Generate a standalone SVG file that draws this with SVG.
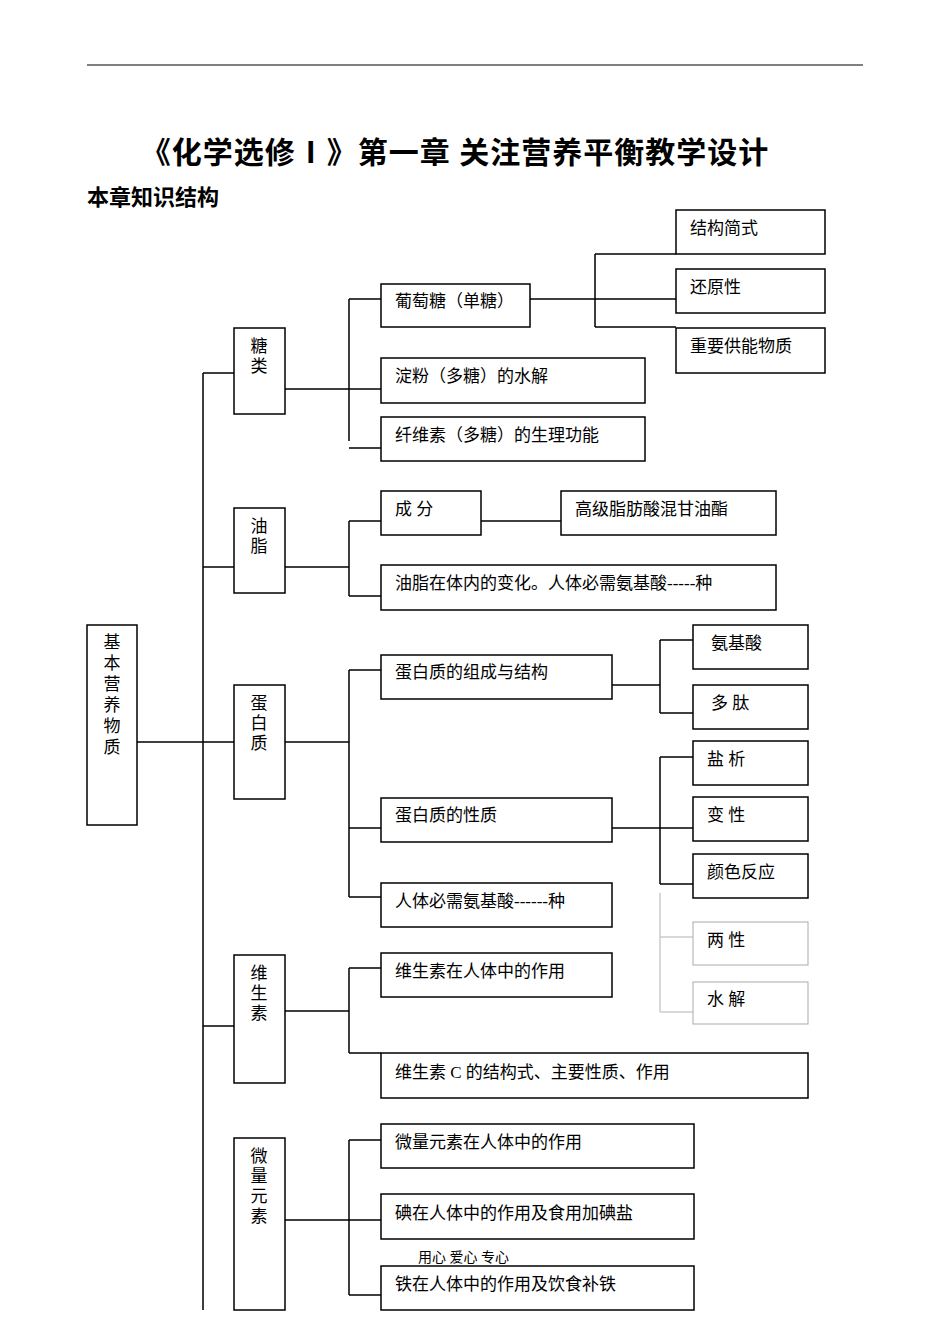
<svg xmlns="http://www.w3.org/2000/svg" width="950" height="1342" viewBox="0 0 950 1342">
<style>
rect{fill:#fff;stroke:#000;stroke-width:1.5}
rect.bg{stroke:none}
rect.g{stroke:#aaa;stroke-width:1}
text{font-family:"Liberation Serif","Noto Sans CJK SC",serif;font-size:17px;fill:#000}
.c path{fill:none;stroke:#000;stroke-width:1.5}
.c path.g{stroke:#ccc}
</style>
<rect class="bg" width="950" height="1342"/>
<path d="M87 65H863" stroke="#000" stroke-width="1.2"/>
<text x="455" y="163" text-anchor="middle" style="font-size:30px;font-weight:bold;letter-spacing:1px">《化学选修Ⅰ》第一章  关注营养平衡教学设计</text>
<text x="87" y="205" style="font-size:22px;font-weight:bold;font-family:'Noto Sans CJK SC',sans-serif">本章知识结构</text>
<g class="c">
<path d="M203 373V1310M137 742H234M203 373H234M203 567H234M203 1026H234"/>
<path d="M285 389H349M349 299V441M349 299H381M349 389H381M349 448H381"/>
<path d="M530 299H595M595 254V327M595 254H676M595 299H676M595 327H676"/>
<path d="M285 567H349M349 521V596M349 521H381M349 596H381M481 521H561"/>
<path d="M285 742H349M349 670V897M349 670H381M349 828H381M349 897H381"/>
<path d="M612 685H660M660 640V713M660 640H693M660 713H693"/>
<path d="M612 828H660M660 757V884M660 757H693M660 828H693M660 884H693"/>
<path class="g" d="M660 893V1012M660 937H693M660 1012H693"/>
<path d="M285 1011H349M349 968V1053M349 968H381M349 1053H381"/>
<path d="M285 1220H349M349 1140V1295M349 1140H381M349 1220H381M349 1295H381"/>
</g>
<g id="root"><rect x="87" y="625" width="50" height="200"/><text text-anchor="middle"><tspan x="112" y="648">基</tspan><tspan x="112" dy="21">本</tspan><tspan x="112" dy="21">营</tspan><tspan x="112" dy="21">养</tspan><tspan x="112" dy="21">物</tspan><tspan x="112" dy="21">质</tspan></text></g>
<g id="tang"><rect x="234" y="328" width="51" height="86"/><text text-anchor="middle"><tspan x="259" y="352">糖</tspan><tspan x="259" dy="20">类</tspan></text></g>
<g id="you"><rect x="234" y="508" width="51" height="85"/><text text-anchor="middle"><tspan x="259" y="532">油</tspan><tspan x="259" dy="20">脂</tspan></text></g>
<g id="dan"><rect x="234" y="685" width="51" height="114"/><text text-anchor="middle"><tspan x="259" y="709">蛋</tspan><tspan x="259" dy="20">白</tspan><tspan x="259" dy="20">质</tspan></text></g>
<g id="wei"><rect x="234" y="955" width="51" height="128"/><text text-anchor="middle"><tspan x="259" y="979">维</tspan><tspan x="259" dy="20">生</tspan><tspan x="259" dy="20">素</tspan></text></g>
<g id="wl"><rect x="234" y="1138" width="51" height="172"/><text text-anchor="middle"><tspan x="259" y="1162">微</tspan><tspan x="259" dy="20">量</tspan><tspan x="259" dy="20">元</tspan><tspan x="259" dy="20">素</tspan></text></g>
<g id="n1"><rect x="381" y="284" width="149" height="43"/><text x="395" y="307">葡萄糖（单糖）</text></g>
<g id="n2"><rect x="381" y="358" width="264" height="45"/><text x="395" y="382">淀粉（多糖）的水解</text></g>
<g id="n3"><rect x="381" y="417" width="264" height="44"/><text x="395" y="441">纤维素（多糖）的生理功能</text></g>
<g id="n4"><rect x="676" y="210" width="149" height="44"/><text x="690" y="234">结构简式</text></g>
<g id="n5"><rect x="676" y="269" width="149" height="44"/><text x="690" y="293">还原性</text></g>
<g id="n6"><rect x="676" y="328" width="149" height="45"/><text x="690" y="352">重要供能物质</text></g>
<g id="n7"><rect x="381" y="491" width="100" height="44"/><text x="395" y="515">成  分</text></g>
<g id="n8"><rect x="561" y="491" width="215" height="44"/><text x="575" y="515">高级脂肪酸混甘油酯</text></g>
<g id="n9"><rect x="381" y="565" width="395" height="45"/><text x="395" y="589">油脂在体内的变化。人体必需氨基酸-----种</text></g>
<g id="n10"><rect x="381" y="655" width="231" height="44"/><text x="395" y="678">蛋白质的组成与结构</text></g>
<g id="n11"><rect x="381" y="798" width="231" height="44"/><text x="395" y="821">蛋白质的性质</text></g>
<g id="n12"><rect x="381" y="883" width="231" height="44"/><text x="395" y="907">人体必需氨基酸------种</text></g>
<g id="n13"><rect x="693" y="625" width="115" height="44"/><text x="711" y="649">氨基酸</text></g>
<g id="n14"><rect x="693" y="685" width="115" height="44"/><text x="711" y="709">多  肽</text></g>
<g id="n15"><rect x="693" y="741" width="115" height="44"/><text x="707" y="765">盐  析</text></g>
<g id="n16"><rect x="693" y="797" width="115" height="44"/><text x="707" y="821">变  性</text></g>
<g id="n17"><rect x="693" y="854" width="115" height="44"/><text x="707" y="878">颜色反应</text></g>
<g id="n18"><rect class="g" x="693" y="922" width="115" height="43"/><text x="707" y="946">两  性</text></g>
<g id="n19"><rect class="g" x="693" y="982" width="115" height="42"/><text x="707" y="1005">水  解</text></g>
<g id="n20"><rect x="381" y="953" width="231" height="44"/><text x="395" y="977">维生素在人体中的作用</text></g>
<g id="n21"><rect x="381" y="1053" width="427" height="45"/><text x="395" y="1078">维生素 C 的结构式、主要性质、作用</text></g>
<g id="n22"><rect x="381" y="1124" width="313" height="44"/><text x="395" y="1148">微量元素在人体中的作用</text></g>
<g id="n23"><rect x="381" y="1194" width="313" height="45"/><text x="395" y="1219">碘在人体中的作用及食用加碘盐</text></g>
<g id="n24"><rect x="381" y="1266" width="313" height="44"/><text x="395" y="1290">铁在人体中的作用及饮食补铁</text></g>
<text x="418" y="1262" style="font-size:14px">用心  爱心  专心</text>
</svg>
